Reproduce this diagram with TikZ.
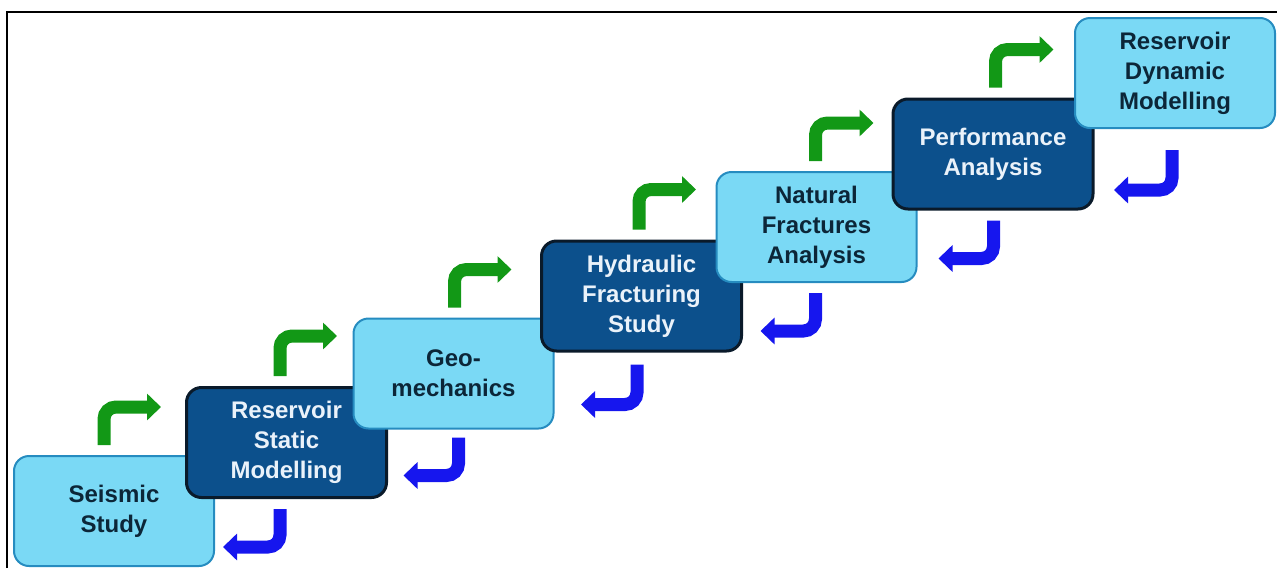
\documentclass[tikz,border=0pt]{standalone}
\usepackage{fontspec}
\setmainfont{Liberation Sans}
\usepackage{tikz}
\usetikzlibrary{arrows.meta,calc}
\definecolor{lightfill}{RGB}{122,217,245}
\definecolor{lightedge}{RGB}{38,140,192}
\definecolor{darkfill}{RGB}{12,80,140}
\definecolor{darkedge}{RGB}{10,26,42}
\definecolor{lighttext}{RGB}{12,38,56}
\definecolor{darktext}{RGB}{234,242,250}
\definecolor{verde}{RGB}{18,152,22}
\definecolor{blu}{RGB}{22,22,238}
\tikzset{
>=Stealth,
step node/.style={rounded corners=15pt,minimum width=200pt,minimum height=110pt,align=center,
  font=\fontsize{24}{30}\selectfont\bfseries},
light node/.style={step node,fill=lightfill,draw=lightedge,line width=2pt,text=lighttext},
dark node/.style={step node,fill=darkfill,draw=darkedge,line width=3pt,text=darktext},
up arrow/.style={draw=verde,line width=13pt,rounded corners=12pt,-{Triangle[width=26pt,length=14pt]}},
back arrow/.style={draw=blu,line width=13pt,rounded corners=12pt,-{Triangle[width=26pt,length=14pt]}}}

\begin{document}
\begin{tikzpicture}[x=1pt,y=-1pt]

\useasboundingbox (0,0) rectangle (1277,568);
\draw[line width=2pt] (7,568) -- (7,12) -- (1277,12);

\node[light node] (1) at (114,511)    {Seismic\\Study};
\node[dark node]  (2) at (286.5,442.5) {Reservoir\\Static\\Modelling};
\node[light node] (3) at (453.5,373.5) {Geo-\\mechanics};
\node[dark node]  (4) at (641.5,296)   {Hydraulic\\Fracturing\\Study};
\node[light node] (5) at (816.5,227)   {Natural\\Fractures\\Analysis};
\node[dark node]  (6) at (993,154)     {Performance\\Analysis};
\node[light node] (7) at (1175,73)     {Reservoir\\Dynamic\\Modelling};

% forward
\draw[up arrow] ($(1.north west)+(91,-10)$) |- ++(57,-38);
\draw[up arrow] ($(2.north west)+(95,-10)$) |- ++(57,-40);
\draw[up arrow] ($(3.north west)+(102,-10)$) |- ++(57,-38);
\draw[up arrow] ($(4.north west)+(99,-10)$) |- ++(57,-40);
\draw[up arrow] ($(5.north west)+(100,-10)$) |- ++(58,-38);
\draw[up arrow] ($(6.north west)+(104,-10)$) |- ++(58,-38);

% back
\draw[back arrow] ($(2.south west)+(95,10)$) |- ++(-57,38);
\draw[back arrow] ($(3.south west)+(106,8)$) |- ++(-55,38);
\draw[back arrow] ($(4.south west)+(97,12)$) |- ++(-56,40);
\draw[back arrow] ($(5.south west)+(100,10)$) |- ++(-55,38);
\draw[back arrow] ($(6.south west)+(102,10)$) |- ++(-55,38);
\draw[back arrow] ($(7.south west)+(98,21)$) |- ++(-58,40);

\end{tikzpicture}
\end{document}
